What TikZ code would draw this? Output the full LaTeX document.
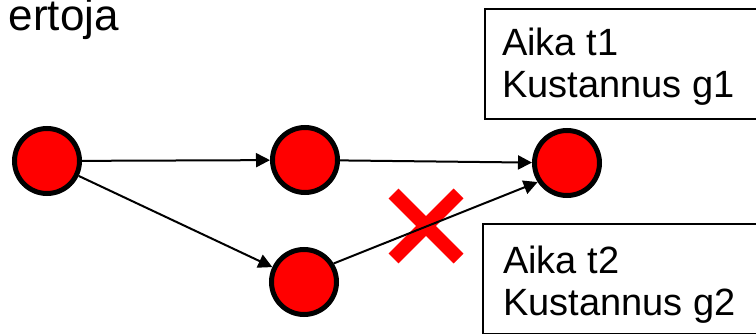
\documentclass[tikz,border=0pt]{standalone}
\usepackage{fontspec}
\setmainfont{Liberation Sans}
\usetikzlibrary{arrows.meta}
\definecolor{nodered}{RGB}{255,0,0}
\tikzset{
  state/.style={circle, fill=nodered, draw=black, line width=5pt,
    minimum size=65pt, inner sep=0pt},
  flow/.style={line width=2pt, -{Triangle[length=14pt,width=14pt]}},
  infobox/.style={draw=black, line width=2pt, minimum width=320pt,
    minimum height=110pt, anchor=north west, inner sep=0pt},
  infotext/.style={font=\fontsize{38}{42}\selectfont, align=left,
    anchor=north west, inner sep=0pt},
  cross/.style={draw=nodered, line width=14pt}
}
\begin{document}
\begin{tikzpicture}[x=1pt, y=-1pt]
  \useasboundingbox (0,0) rectangle (756,334);

  % heading fragment
  \node[font=\fontsize{44}{50}\selectfont, anchor=base east, inner sep=0pt]
    (title) at (119,31) {ertoja};

  % cost boxes
  \node[infobox] (b1) at (484,8) {};
  \node[infotext] (t1) at (502,27.8) {Aika t1\\Kustannus g1};
  \node[infobox] (b2) at (482,223) {};
  \node[infotext] (t2) at (503,245.8) {Aika t2\\Kustannus g2};

  % states
  \node[state] (n1) at (47,161) {};
  \node[state] (n2) at (305,160) {};
  \node[state] (n3) at (567,163) {};
  \node[state] (n4) at (304,282) {};

  % rejected route marker
  \coordinate (xc) at (426,226);
  \draw[cross] ([shift={(-32.5,-32.5)}]xc) -- ([shift={(32.5,32.5)}]xc);
  \draw[cross] ([shift={(-32.5,32.5)}]xc) -- ([shift={(32.5,-32.5)}]xc);

  % transitions
  \draw[flow] (n1) -- (n2);
  \draw[flow] (n2) -- (n3);
  \draw[flow] (n1) -- (n4);
  \draw[flow] (n4.32) -- (n3.213);
\end{tikzpicture}
\end{document}
